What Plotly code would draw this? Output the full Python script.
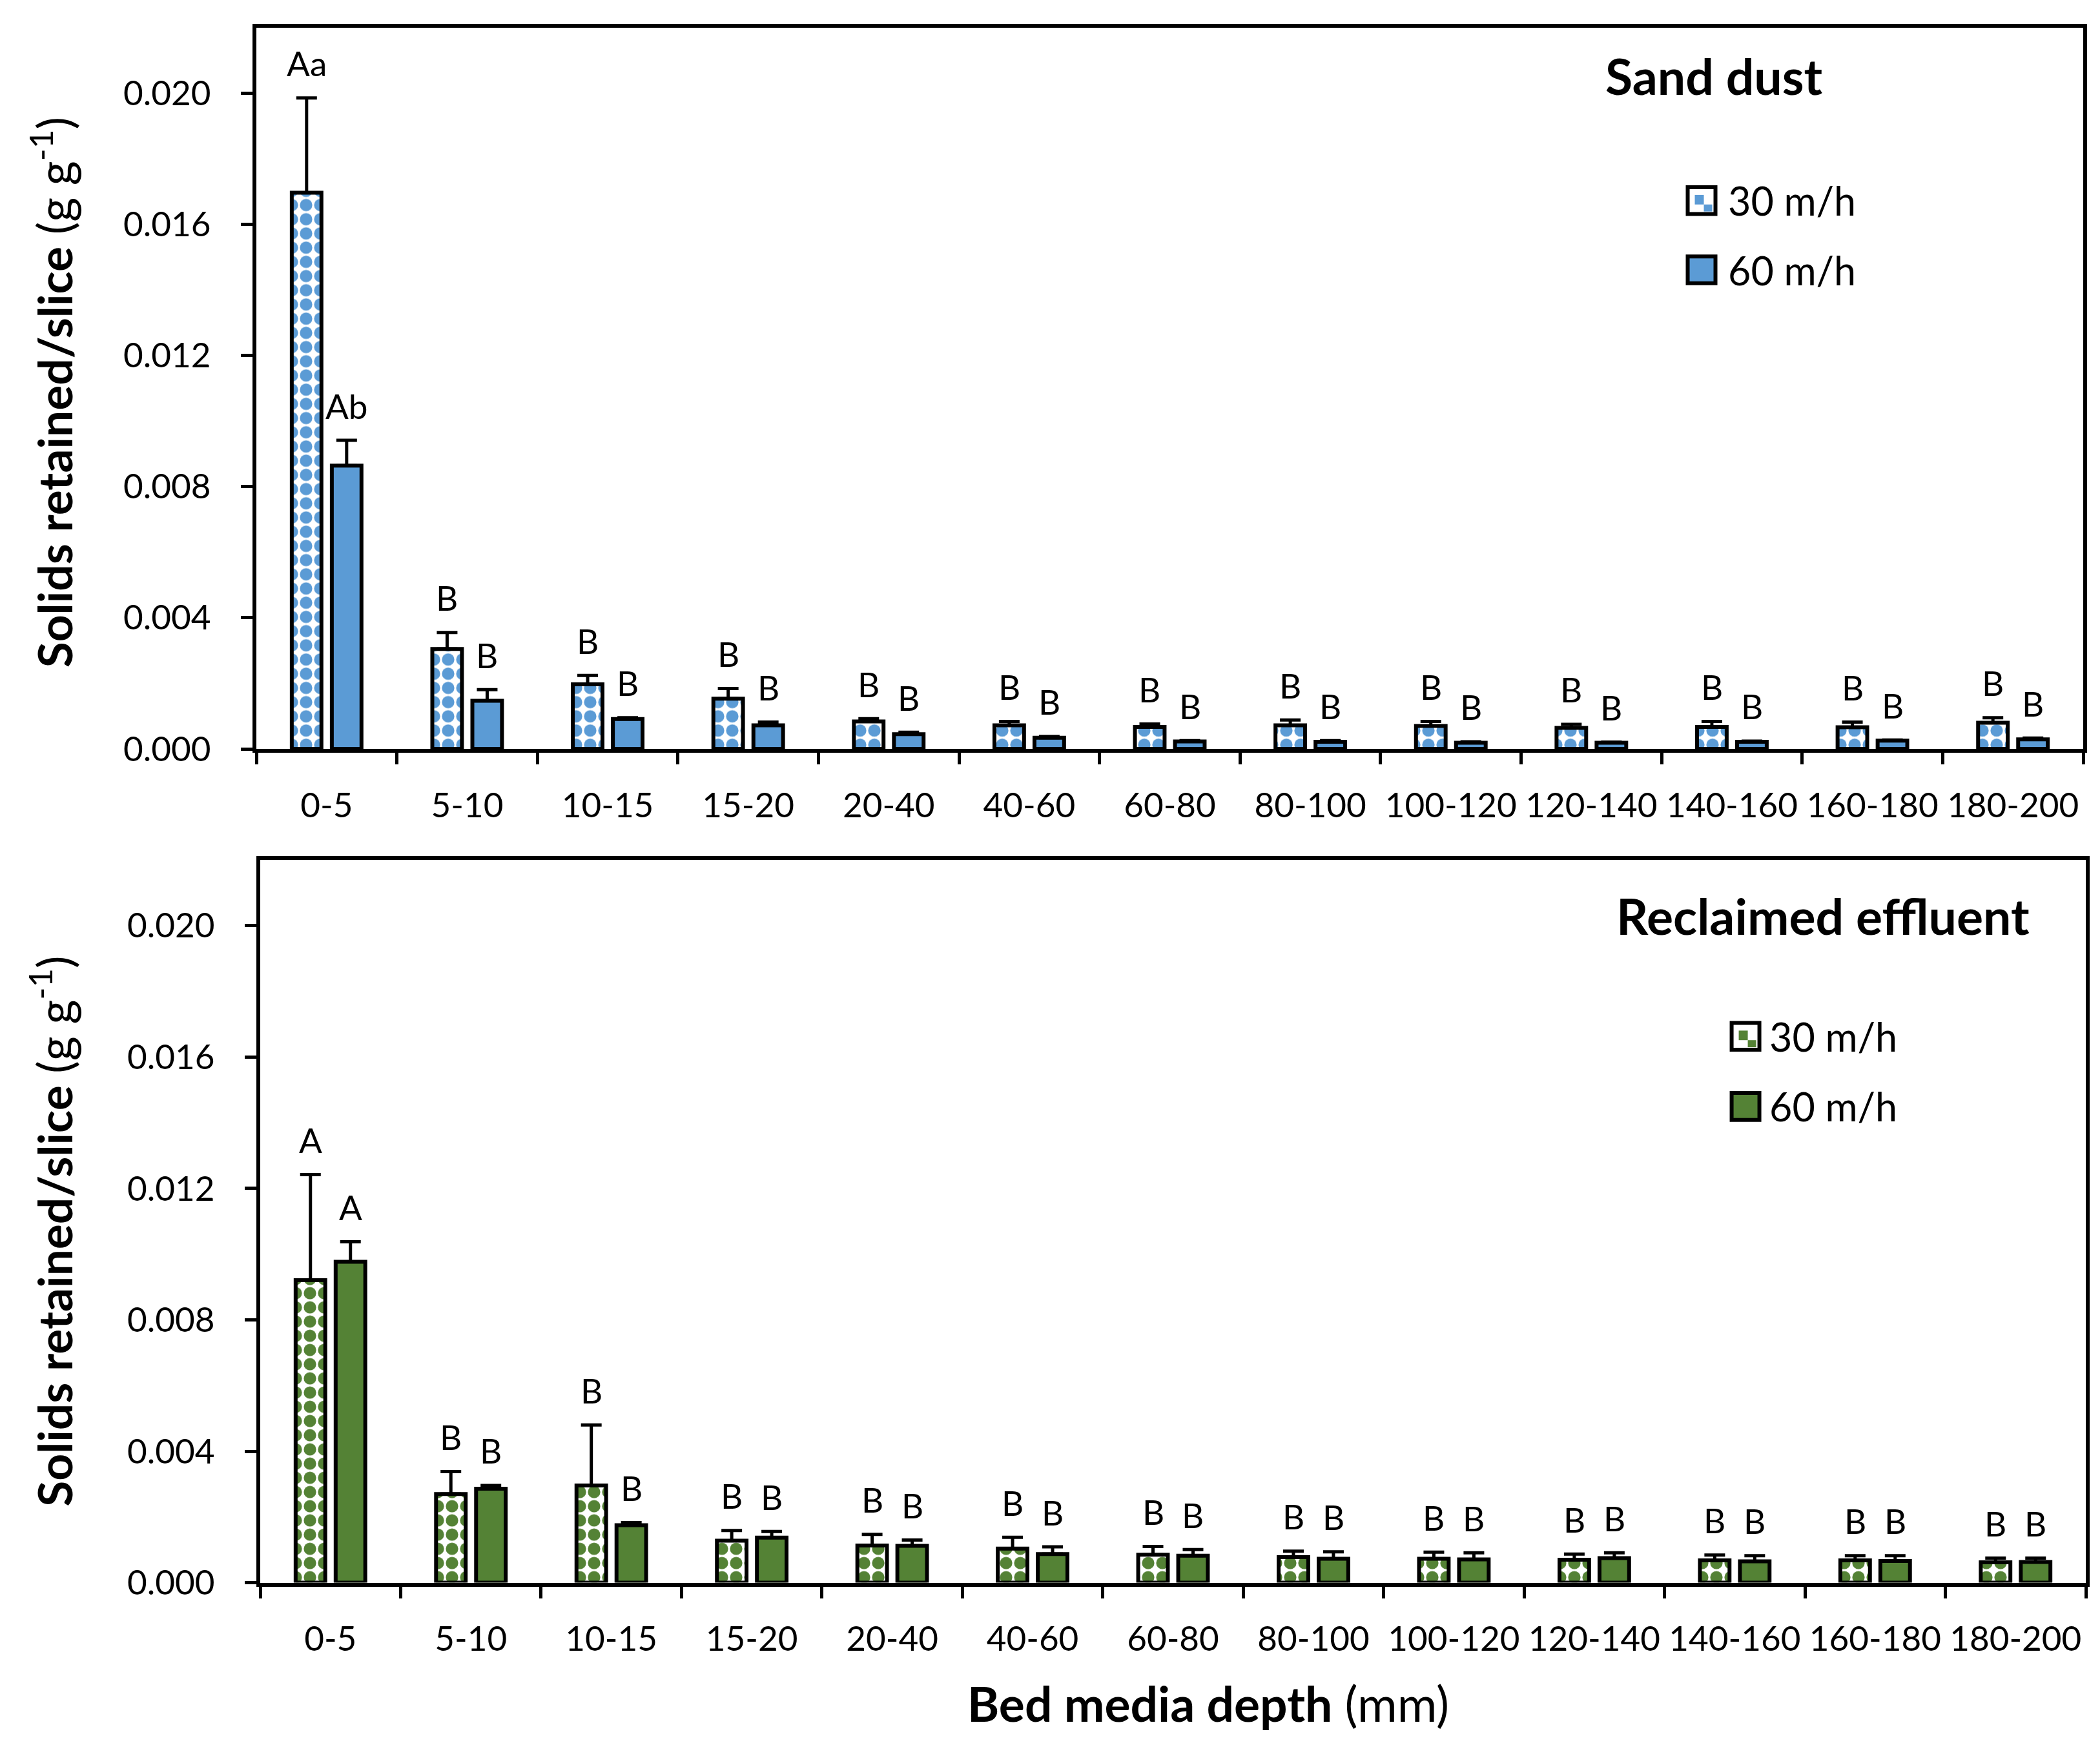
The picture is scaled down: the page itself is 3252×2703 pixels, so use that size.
import plotly.graph_objects as go

# ---------------- data ----------------
categories = ["0-5", "5-10", "10-15", "15-20", "20-40", "40-60", "60-80",
              "80-100", "100-120", "120-140", "140-160", "160-180", "180-200"]

sand_30 = [0.01696, 0.00305, 0.00197, 0.00153, 0.00084, 0.00072, 0.00067,
           0.00072, 0.00070, 0.00064, 0.00067, 0.00066, 0.00080]
sand_30_err = [0.00289, 0.00050, 0.00027, 0.00031, 0.00008, 0.00012, 0.00009,
               0.00016, 0.00014, 0.00011, 0.00017, 0.00016, 0.00015]
sand_60 = [0.00864, 0.00147, 0.00091, 0.00072, 0.00045, 0.00034, 0.00023,
           0.00022, 0.00019, 0.00019, 0.00022, 0.00025, 0.00029]
sand_60_err = [0.00077, 0.00034, 0.00004, 0.00010, 0.00006, 0.00004, 0.00002,
               0.00003, 0.00003, 0.00002, 0.00002, 0.00002, 0.00004]

reclaimed_30 = [0.00921, 0.00270, 0.00296, 0.00128, 0.00113, 0.00104, 0.00085,
                0.00078, 0.00073, 0.00070, 0.00068, 0.00068, 0.00062]
reclaimed_30_err = [0.00321, 0.00068, 0.00184, 0.00031, 0.00034, 0.00034, 0.00025,
                    0.00018, 0.00020, 0.00017, 0.00016, 0.00014, 0.00013]
reclaimed_60 = [0.00977, 0.00286, 0.00175, 0.00137, 0.00112, 0.00087, 0.00082,
                0.00073, 0.00071, 0.00075, 0.00065, 0.00066, 0.00063]
reclaimed_60_err = [0.00061, 0.00010, 0.00008, 0.00019, 0.00018, 0.00022, 0.00019,
                    0.00021, 0.00020, 0.00016, 0.00017, 0.00016, 0.00012]

sand_30_letters = ["Aa"] + ["B"] * 12
sand_60_letters = ["Ab"] + ["B"] * 12
reclaimed_30_letters = ["A"] + ["B"] * 12
reclaimed_60_letters = ["A"] + ["B"] * 12

series_names = ["30 m/h", "60 m/h"]
panel_titles = ["Sand dust", "Reclaimed effluent"]
y_tick_values = [0.000, 0.004, 0.008, 0.012, 0.016, 0.020]
y_range = [0, 0.022]

# ---------------- styling ----------------
W, H = 3252, 2703
FONT = "Lato, 'Open Sans', sans-serif"
BLUE = "#5B9BD5"
GREEN = "#548235"
BARGAP = 0.43
BARGROUPGAP = 0.26

top_xdom = [389 / W, 3218 / W]
top_ydom = [1 - 1165 / H, 1 - 35 / H]
bot_xdom = [395 / W, 3222 / W]
bot_ydom = [1 - 2471 / H, 1 - 1339 / H]

fig = go.Figure()


def add_pair(v30, e30, v60, e60, color, xa, ya):
    n = len(categories)
    fig.add_trace(go.Bar(
        x=categories, y=v30, name=series_names[0], xaxis=xa, yaxis=ya,
        showlegend=False,
        marker=dict(color="white", line=dict(color="black", width=6),
                    pattern=dict(shape=".", fgcolor=color, bgcolor="white",
                                 size=22, solidity=0.6, fgopacity=1)),
        error_y=dict(type="data", array=e30, arrayminus=[0] * n, symmetric=False,
                     color="black", thickness=5, width=16),
    ))
    fig.add_trace(go.Bar(
        x=categories, y=v60, name=series_names[1], xaxis=xa, yaxis=ya,
        showlegend=False,
        marker=dict(color=color, line=dict(color="black", width=6)),
        error_y=dict(type="data", array=e60, arrayminus=[0] * n, symmetric=False,
                     color="black", thickness=5, width=16),
    ))


add_pair(sand_30, sand_30_err, sand_60, sand_60_err, BLUE, "x", "y")
add_pair(reclaimed_30, reclaimed_30_err, reclaimed_60, reclaimed_60_err, GREEN, "x2", "y2")

axis_common = dict(showline=True, mirror=True, linecolor="black", linewidth=6,
                   ticks="outside", ticklen=18, tickwidth=5, tickcolor="black",
                   showgrid=False, zeroline=False)

xaxis_common = dict(axis_common, type="category", tickson="boundaries",
                    tickfont=dict(family=FONT, size=53, color="black"),
                    ticklabelstandoff=36)
yaxis_common = dict(axis_common, range=y_range, tickvals=y_tick_values,
                    tickformat=".3f",
                    tickfont=dict(family=FONT, size=53, color="black"),
                    ticklabelstandoff=36)

fig.update_layout(
    width=W, height=H,
    margin=dict(l=0, r=0, t=0, b=0),
    paper_bgcolor="white", plot_bgcolor="white",
    barmode="group", bargap=BARGAP, bargroupgap=BARGROUPGAP,
    showlegend=False,
    xaxis=dict(xaxis_common, domain=top_xdom, anchor="y"),
    yaxis=dict(yaxis_common, domain=top_ydom, anchor="x"),
    xaxis2=dict(xaxis_common, domain=bot_xdom, anchor="y2"),
    yaxis2=dict(yaxis_common, domain=bot_ydom, anchor="x2"),
)

annotations = []
shapes = []


def bar_offset_px(xdom):
    cat_w = (xdom[1] - xdom[0]) * W / len(categories)
    return cat_w * (1 - BARGAP) / 4


def add_letters(vals, errs, letters, xref, yref, sign, xdom):
    off = bar_offset_px(xdom) * sign
    for c, v, e, t in zip(categories, vals, errs, letters):
        annotations.append(dict(
            x=c, y=v + e, xref=xref, yref=yref, text=t, showarrow=False,
            xshift=off, yshift=54, xanchor="center", yanchor="middle",
            font=dict(family=FONT, size=53, color="black")))


add_letters(sand_30, sand_30_err, sand_30_letters, "x", "y", -1, top_xdom)
add_letters(sand_60, sand_60_err, sand_60_letters, "x", "y", 1, top_xdom)
add_letters(reclaimed_30, reclaimed_30_err, reclaimed_30_letters, "x2", "y2", -1, bot_xdom)
add_letters(reclaimed_60, reclaimed_60_err, reclaimed_60_letters, "x2", "y2", 1, bot_xdom)


def add_legend(xr, yr, xdom, ydom, color, sw_left, text_left, rows_y, title, title_x, title_y):
    pw = (xdom[1] - xdom[0]) * W
    ph = (ydom[1] - ydom[0]) * H
    sw, sh = 43 / pw, 42 / ph
    for i, (name, yc) in enumerate(zip(series_names, rows_y)):
        x0, x1 = sw_left, sw_left + sw
        y0, y1 = yc - sh / 2, yc + sh / 2
        fill = "white" if i == 0 else color
        shapes.append(dict(type="rect", xref=xr, yref=yr, x0=x0, x1=x1, y0=y0, y1=y1,
                           fillcolor=fill, line=dict(color="black", width=6), layer="above"))
        if i == 0:
            # small pattern squares inside the hatched swatch
            for (a, b, c, d) in [(11, 25, 12, 27), (25, 38, 27, 38)]:
                shapes.append(dict(type="rect", xref=xr, yref=yr,
                                   x0=x0 + a / pw, x1=x0 + b / pw,
                                   y0=y1 - d / ph, y1=y1 - c / ph,
                                   fillcolor=color, line=dict(width=0), layer="above"))
        annotations.append(dict(x=text_left, y=yc, xref=xr, yref=yr, text=name,
                                showarrow=False, xanchor="left", yanchor="middle",
                                font=dict(family=FONT, size=61, color="black")))
    annotations.append(dict(x=title_x, y=title_y, xref=xr, yref=yr,
                            text="<b>%s</b>" % title, showarrow=False,
                            xanchor="center", yanchor="middle",
                            font=dict(family=FONT, size=77, color="black")))


add_legend("x domain", "y domain", top_xdom, top_ydom, BLUE, 0.7835, 0.805,
           [0.760, 0.664], panel_titles[0], 0.798, 0.933)
add_legend("x2 domain", "y2 domain", bot_xdom, bot_ydom, GREEN, 0.806, 0.826,
           [0.756, 0.659], panel_titles[1], 0.856, 0.923)

ytitle = "<b>Solids retained/slice</b> (g g<sup>-1</sup>)"
for yc in [1 - 607 / H, 1 - 1921 / H]:
    annotations.append(dict(x=72 / W, y=yc, xref="paper", yref="paper", text=ytitle,
                            textangle=-90, showarrow=False, xanchor="center",
                            yanchor="middle",
                            font=dict(family=FONT, size=73, color="black")))

annotations.append(dict(x=1863 / W, y=1 - 2660 / H, xref="paper", yref="paper",
                        text="<b>Bed media depth</b> (mm)", showarrow=False,
                        xanchor="center", yanchor="middle",
                        font=dict(family=FONT, size=75, color="black")))

fig.update_layout(annotations=annotations, shapes=shapes)
fig.write_html("out.html")
